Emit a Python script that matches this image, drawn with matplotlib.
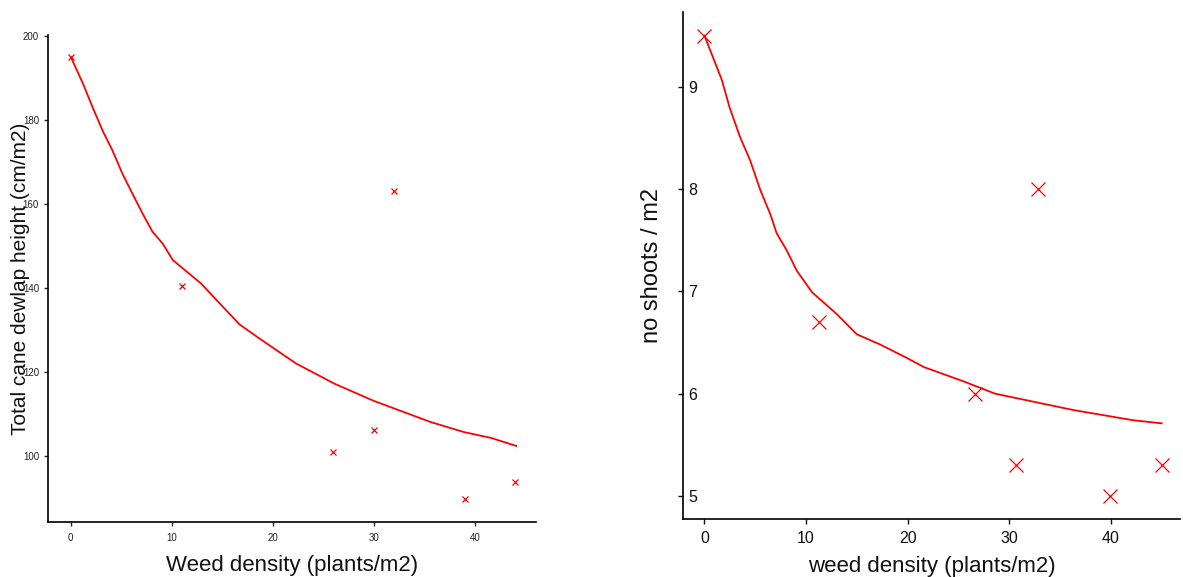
import matplotlib.pyplot as plt

plt.rcParams['font.family'] = ['Liberation Sans', 'DejaVu Sans']

# observed points (weed density vs response)
density_left = [0, 11, 26, 30, 32, 39, 44]
cane_height = [195, 140.5, 101, 106.2, 163.1, 89.8, 93.8]

density_right = [0, 11.3, 26.6, 30.7, 32.8, 39.9, 45.0]
shoots = [9.5, 6.7, 6.0, 5.3, 8.0, 5.0, 5.3]

# fitted curves
fit_x_left = [0, 1.2, 2.2, 3.2, 4.1, 5.1, 6.1, 7.1, 8.1, 9.1, 10.1, 12.9,
              16.7, 18.7, 22.3, 26.1, 30.0, 35.6, 38.9, 41.6, 44.1]
fit_y_left = [195, 188.7, 182.8, 177.2, 172.9, 167.3, 162.5, 157.8, 153.4,
              150.6, 146.7, 141.1, 131.4, 128, 122.1, 117.3, 113.2, 108.2,
              105.8, 104.4, 102.5]

fit_x_right = [0, 1.7, 2.5, 3.5, 4.5, 5.5, 6.5, 7.1, 8.1, 9.1, 10.6, 13.0,
               15.0, 17.3, 19.9, 21.6, 25.5, 28.6, 36.3, 42.2, 45.0]
fit_y_right = [9.5, 9.07, 8.79, 8.51, 8.28, 7.99, 7.75, 7.57, 7.4, 7.2, 6.99,
               6.78, 6.58, 6.48, 6.35, 6.26, 6.12, 6.0, 5.84, 5.74, 5.71]

fig = plt.figure(figsize=(11.83, 5.77), dpi=100)

# left panel
ax1 = fig.add_axes([0.0406, 0.0953, 0.4125, 0.844])
ax1.plot(fit_x_left, fit_y_left, color='red', lw=1.3)
ax1.plot(density_left, cane_height, 'x', color='red', ms=5, mew=0.9)
ax1.set_xlim(-2.25, 46.06)
ax1.set_ylim(84.4, 200.2)
ax1.set_xticks([0, 10, 20, 30, 40])
ax1.set_yticks([100, 120, 140, 160, 180, 200])
ax1.tick_params(labelsize=7, length=3, width=1, colors='#222222')
ax1.tick_params(axis='x', pad=5)
ax1.set_xlabel('Weed density (plants/m2)', fontsize=16, color='#111111')
ax1.set_ylabel('Total cane dewlap height (cm/m2)', fontsize=15, color='#111111')
ax1.xaxis.set_label_coords(0.5, -0.068)
ax1.yaxis.set_label_coords(-0.036, 0.5)

# right panel
ax2 = fig.add_axes([0.5774, 0.1005, 0.4201, 0.8787])
ax2.plot(fit_x_right, fit_y_right, color='red', lw=1.3)
ax2.plot(density_right, shoots, 'x', color='red', ms=10, mew=0.9)
ax2.set_xlim(-2.1, 46.8)
ax2.set_ylim(4.775, 9.73)
ax2.set_xticks([0, 10, 20, 30, 40])
ax2.set_yticks([5, 6, 7, 8, 9])
ax2.tick_params(labelsize=11.5, length=3.5, width=1, colors='#111111')
ax2.tick_params(axis='x', pad=5)
ax2.tick_params(axis='y', pad=-13.5)
ax2.set_xlabel('weed density (plants/m2)', fontsize=16, color='#111111')
ax2.set_ylabel('no shoots / m2', fontsize=17, color='#111111')
ax2.xaxis.set_label_coords(0.5, -0.072)
ax2.yaxis.set_label_coords(-0.04, 0.5)

for ax in (ax1, ax2):
    ax.spines['top'].set_visible(False)
    ax.spines['right'].set_visible(False)
    ax.spines['left'].set_linewidth(1.2)
    ax.spines['bottom'].set_linewidth(1.2)

fig.savefig('out.png', dpi=100)
